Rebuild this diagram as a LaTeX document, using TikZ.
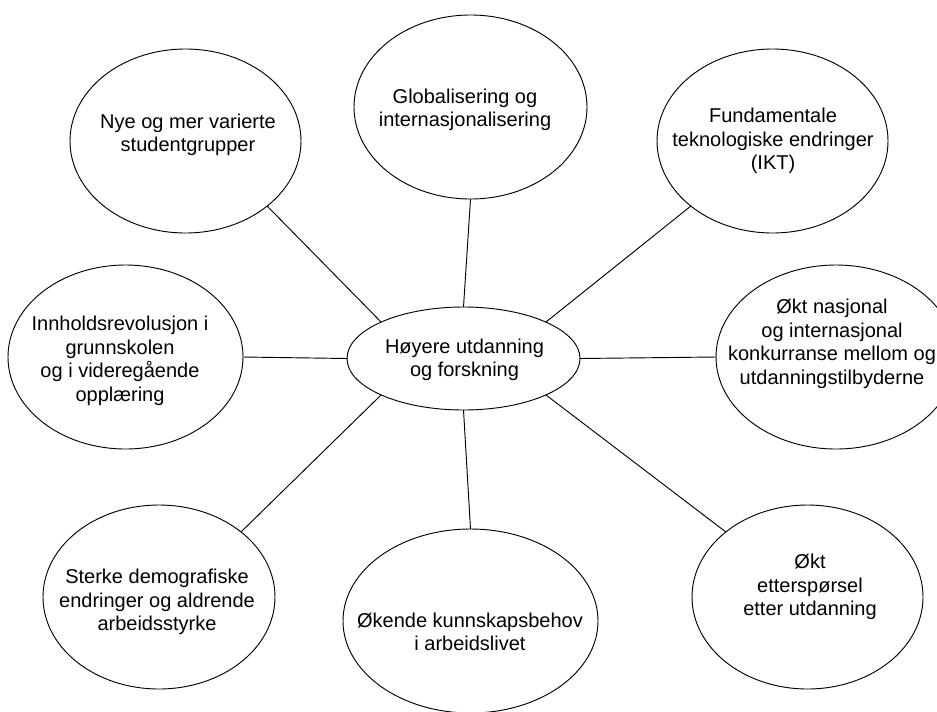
\documentclass[tikz,border=0pt]{standalone}
\usepackage{fontspec}
\setmainfont{Liberation Sans}
\usetikzlibrary{shapes.geometric}
\begin{document}
\begin{tikzpicture}[x=0.75pt,y=-0.75pt,
  ell/.style={draw=black,line width=0.7pt,ellipse,inner sep=0pt,outer sep=0pt,fill=white},
  lbl/.style={align=center,inner sep=0pt,font=\fontsize{15pt}{17.6pt}\selectfont},
  conn/.style={draw=black,line width=0.7pt}]
\useasboundingbox (0,0) rectangle (937,711);
\fill[white] (0,0) rectangle (937,711);
\clip (0,0) rectangle (937,711);
% ellipses
\node[ell,minimum width=173.25pt,minimum height=138pt] (A) at (185.5,141) {};
\node[ell,minimum width=174.75pt,minimum height=138pt] (G) at (470.5,107) {};
\node[ell,minimum width=173.25pt,minimum height=138pt] (C) at (772.5,141) {};
\node[ell,minimum width=176.25pt,minimum height=138pt] (B) at (125.5,357) {};
\node[ell,minimum width=174.75pt,minimum height=77.25pt] (H) at (463.5,358.5) {};
\node[ell,minimum width=180pt,minimum height=138pt] (D) at (836,357) {};
\node[ell,minimum width=174pt,minimum height=138pt] (E) at (159,597) {};
\node[ell,minimum width=191.25pt,minimum height=138pt] (F) at (470.5,621) {};
\node[ell,minimum width=173.25pt,minimum height=138pt] (I) at (807.5,597) {};
% texts
\node[lbl] (tA) at (188,135) {Nye og mer varierte\\studentgrupper};
\node[lbl] (tG) at (465,110) {Globalisering og\\internasjonalisering};
\node[lbl] (tC) at (773,141) {Fundamentale\\teknologiske endringer\\(IKT)};
\node[lbl] (tB) at (120,361) {Innholdsrevolusjon i\\grunnskolen\\og i videregående\\opplæring};
\node[lbl] (tH) at (464.5,360) {Høyere utdanning\\og forskning};
\node[lbl] (tD) at (832,344) {Økt nasjonal\\og internasjonal\\konkurranse mellom og\\utdanningstilbyderne};
\node[lbl] (tE) at (157,602) {Sterke demografiske\\endringer og aldrende\\arbeidsstyrke};
\node[lbl] (tF) at (470,632) {Økende kunnskapsbehov\\i arbeidslivet};
\node[lbl] (tI) at (810,587) {Økt\\etterspørsel\\etter utdanning};
% connectors
\draw[conn] (A.south east) -- (H.north west);
\draw[conn] (G.south) -- (H.north);
\draw[conn] (C.south west) -- (H.north east);
\draw[conn] (B.east) -- (H.west);
\draw[conn] (H.east) -- (D.west);
\draw[conn] (H.south west) -- (E.north east);
\draw[conn] (H.south) -- (F.north);
\draw[conn] (H.south east) -- (I.north west);
\end{tikzpicture}
\end{document}
